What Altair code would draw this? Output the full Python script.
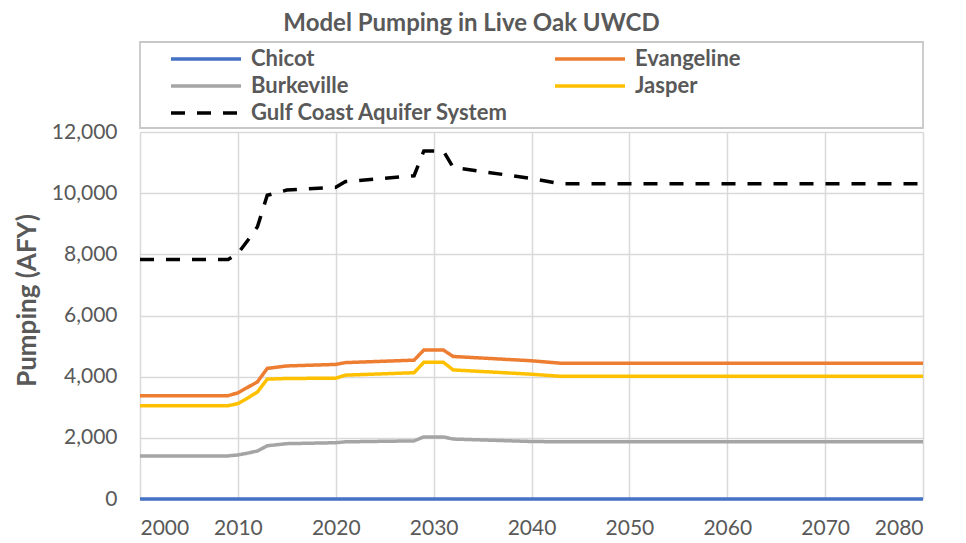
import altair as alt
import pandas as pd

years = [2000, 2009, 2010, 2011, 2012, 2013, 2015, 2020, 2021, 2028, 2029, 2031, 2032, 2040, 2043, 2080]
chicot = [0, 0, 0, 0, 0, 0, 0, 0, 0, 0, 0, 0, 0, 0, 0, 0]
evangeline = [3380, 3380, 3470, 3650, 3830, 4270, 4350, 4400, 4460, 4540, 4870, 4870, 4660, 4520, 4440, 4440]
burkeville = [1410, 1410, 1440, 1500, 1570, 1740, 1810, 1840, 1870, 1900, 2030, 2030, 1960, 1880, 1870, 1870]
jasper = [3050, 3050, 3120, 3300, 3500, 3920, 3940, 3950, 4050, 4130, 4470, 4470, 4220, 4080, 4010, 4010]
gcas = [7830, 7830, 8030, 8450, 8900, 9930, 10100, 10190, 10380, 10570, 11380, 11380, 10840, 10480, 10310, 10310]

# legend fills column by column: Chicot/Burkeville/GCAS in col 1, Evangeline/Jasper in col 2
series_names = ["Chicot", "Burkeville", "Gulf Coast Aquifer System", "Evangeline", "Jasper"]
series_values = [chicot, burkeville, gcas, evangeline, jasper]
colors = ["#4472C4", "#A5A5A5", "#000000", "#ED7D31", "#FFC000"]
dashes = [[1, 0], [1, 0], [14, 12], [1, 0], [1, 0]]

x_ticks = [2000, 2010, 2020, 2030, 2040, 2050, 2060, 2070, 2080]
y_ticks = [0, 2000, 4000, 6000, 8000, 10000, 12000]

rows = []
for name, vals in zip(series_names, series_values):
    for yr, v in zip(years, vals):
        rows.append({"Year": yr, "Pumping": v, "Series": name})
df = pd.DataFrame(rows)

font = "Lato"
gray = "#595959"

legend_props = dict(
    title=" ", titleOrient="right", titlePadding=178, titleFontSize=4,
    orient="none", legendX=0, legendY=-90, columns=2, gridAlign="all",
    columnPadding=19, rowPadding=3, padding=4,
    strokeColor="#c8c8c8", fillColor="white",
    symbolType="M1.273,0H7.636", symbolSize=484, symbolStrokeWidth=3.5,
    labelFont=font, labelFontSize=22, labelFontWeight="bold", labelColor=gray,
    labelOffset=81, labelLimit=400,
)

chart = alt.Chart(df).mark_line(strokeWidth=3.5, strokeCap="butt").encode(
    x=alt.X("Year:Q",
            scale=alt.Scale(domain=[2000, 2080], nice=False, zero=False),
            axis=alt.Axis(values=x_ticks, format="d", title=None, labelPadding=18)),
    y=alt.Y("Pumping:Q",
            scale=alt.Scale(domain=[0, 12000], nice=False),
            axis=alt.Axis(values=y_ticks, format=",d", title="Pumping (AFY)", labelPadding=23,
                          titleX=-113, titleY=168, titleBaseline="middle")),
    color=alt.Color("Series:N", scale=alt.Scale(domain=series_names, range=colors),
                    legend=alt.Legend(**legend_props)),
    strokeDash=alt.StrokeDash("Series:N", scale=alt.Scale(domain=series_names, range=dashes),
                              legend=alt.Legend(**legend_props)),
).properties(
    width=783,
    height=367,
    autosize=alt.AutoSizeParams(type="none"),
    padding={"left": 132, "top": 124, "right": 30, "bottom": 43},
    title=alt.TitleParams("Model Pumping in Live Oak UWCD", fontSize=24, font=font,
                          fontWeight="bold", color=gray, offset=5, dx=-60),
).configure_view(
    stroke=None
).configure_axis(
    grid=True, gridColor="#d9d9d9", gridWidth=1.5, domain=False, ticks=False,
    labelFont=font, labelFontSize=21, labelColor=gray,
    titleFont=font, titleFontSize=26, titleFontWeight="bold", titleColor=gray,
).configure_legend(
    strokeWidth=1.8,
)

chart.save("out.html", embed_options={"renderer": "svg", "actions": False})
